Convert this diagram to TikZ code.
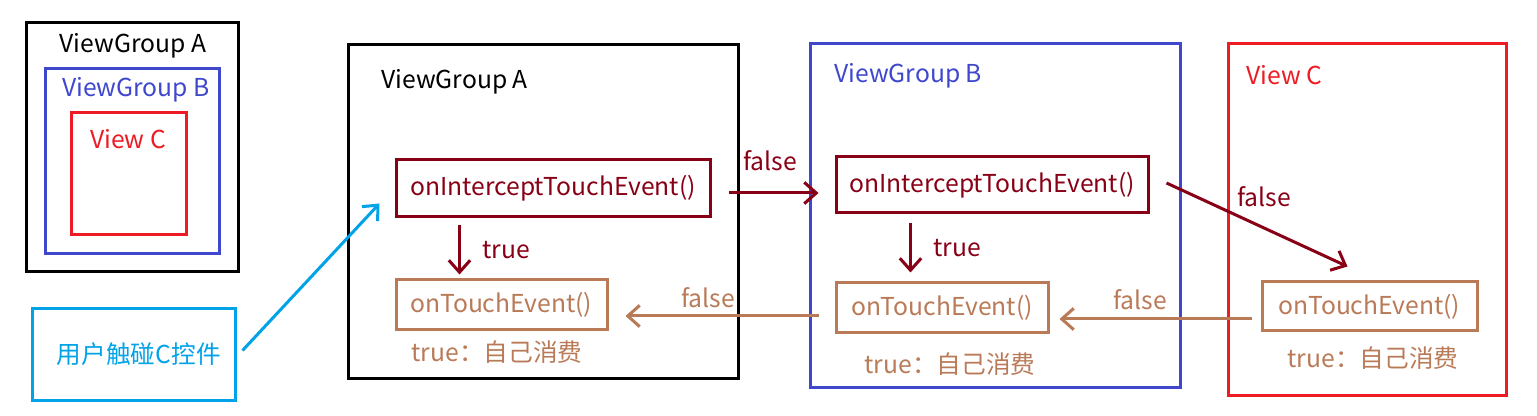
\documentclass[tikz,border=0pt]{standalone}
\usepackage{fontspec}
\setmainfont{Noto Sans CJK SC}
\usetikzlibrary{arrows.meta}
\definecolor{dred}{RGB}{136,0,21}
\definecolor{brn}{RGB}{185,122,87}
\definecolor{pblue}{RGB}{63,72,204}
\definecolor{pred}{RGB}{237,28,36}
\definecolor{pcyan}{RGB}{0,162,232}
\tikzset{
  lw/.style={line width=2.25pt},
  fbox/.style={draw, lw, inner sep=0pt, font=\fontsize{18.5}{22}\selectfont},
  lbl/.style={inner sep=0pt, font=\fontsize{18.5}{22}\selectfont},
  arr/.style={lw, -{Straight Barb[length=9pt,width=16pt,line width=2.25pt]}},
}
\begin{document}
\begin{tikzpicture}[x=0.75pt,y=-0.75pt]
\useasboundingbox (0,0) rectangle (1537,416);
% small overview
\draw[lw,black] (26,23) rectangle (238,272);
\node[lbl] (sa) at (133,46) {ViewGroup A};
\draw[lw,pblue] (45,69) rectangle (219,254);
\node[lbl,text=pblue] (sb) at (136,90) {ViewGroup B};
\draw[lw,pred] (71,113) rectangle (186,235);
\node[lbl,text=pred] (sc) at (128,139) {View C};
% user box
\node[fbox,draw=pcyan,text=pcyan,minimum width=203*0.75pt,minimum height=91*0.75pt,text width=190*0.75pt,align=center] (user) at (133.5,354.5) {\hspace*{8pt}用户触碰C控件};
% containers
\draw[lw,black] (348,45) rectangle (738,378);
\node[lbl,anchor=west] (ga) at (381,82) {ViewGroup A};
\draw[lw,pblue] (810,44) rectangle (1180,387);
\node[lbl,anchor=west,text=pblue] (gb) at (834,76) {ViewGroup B};
\draw[lw,pred] (1228,44) rectangle (1506,395);
\node[lbl,anchor=west,text=pred] (gc) at (1246,75) {View C};
% function boxes
\node[fbox,draw=dred,text=dred,minimum width=314*0.75pt,minimum height=57*0.75pt] (iA) at (553,188.5) {onInterceptTouchEvent()};
\node[fbox,draw=brn,text=brn,minimum width=211*0.75pt,minimum height=50*0.75pt] (tA) at (501.5,305) {onTouchEvent()};
\node[lbl,text=brn] (cA) at (497,352) {true：自己消费};
\node[fbox,draw=dred,text=dred,minimum width=312*0.75pt,minimum height=56*0.75pt] (iB) at (992,185) {onInterceptTouchEvent()};
\node[fbox,draw=brn,text=brn,minimum width=212*0.75pt,minimum height=50*0.75pt] (tB) at (942,308) {onTouchEvent()};
\node[lbl,text=brn] (cB) at (950,364) {true：自己消费};
\node[fbox,draw=brn,text=brn,minimum width=215*0.75pt,minimum height=49*0.75pt] (tC) at (1369.5,306.5) {onTouchEvent()};
\node[lbl,text=brn] (cC) at (1373,358) {true：自己消费};
% arrows
\draw[arr,pcyan] ([shift={(6,-4)}]user.east) -- ([shift={(-15,15)}]iA.west);
\draw[arr,dred] ([shift={(65,7)}]iA.south west) -- ([shift={(65,-4)}]iA.south west |- tA.north) node[lbl,midway,right=16pt] (tl1) {true};
\draw[arr,dred] ([shift={(17,4.5)}]iA.east) -- ([shift={(-16,8)}]iB.west);
\node[lbl,text=dred] (fl1) at (770,161) {false};
\draw[arr,dred] ([shift={(76,9)}]iB.south west) -- ([shift={(76,-9)}]iB.south west |- tB.north) node[lbl,midway,right=16pt] (tl2) {true};
\draw[arr,dred] ([shift={(17,-2)}]iB.east) -- ([shift={(-22,-14)}]tC.north);
\node[lbl,text=dred] (fl2) at (1264,197) {false};
\draw[arr,brn] ([shift={(-9,12.5)}]tC.west) -- ([shift={(10,11)}]tB.east);
\node[lbl,text=brn] (fl3) at (1140,300) {false};
\draw[arr,brn] ([shift={(-16,8)}]tB.west) -- ([shift={(17,11)}]tA.east);
\node[lbl,text=brn] (fl4) at (708,298) {false};
\end{tikzpicture}
\end{document}
